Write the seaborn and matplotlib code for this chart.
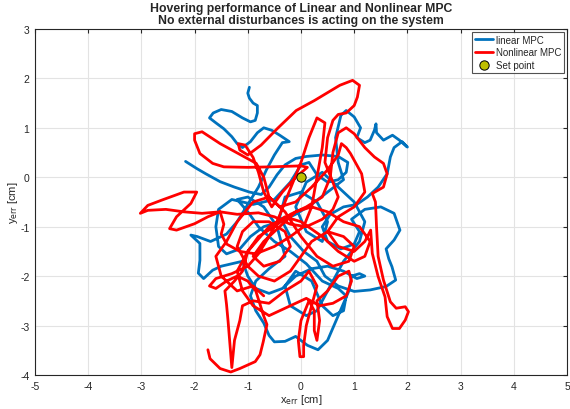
import numpy as np
import pandas as pd
import seaborn as sns
import matplotlib.pyplot as plt

# ==============================
# DATA (x/y error in cm)
# ==============================

linear_x = [-2.17, -1.95, -1.79, -1.52, -1.25, -0.97, -0.75, -0.6, -0.45, -0.3,
            -0.1, 0.1, 0.4, 0.7, 0.88, 0.85, 0.7, 0.5, 0.3, 0.15,
            0.0, -0.2, -0.5, -0.9, -1.3, -1.55, -1.6, -1.55, -1.4, -1.15,
            -0.95, -0.7, -0.4, -0.1, 0.2, 0.5, 0.8, 0.7, 0.65, 0.75,
            0.85, 1.0, 1.12, 1.05, 1.2, 1.3, 1.38, 1.41, 1.42, 1.55,
            1.72, 1.85, 2.0, 1.9, 1.75, 1.68, 1.62, 1.45, 1.25, 1.05,
            0.8, 0.55, 0.4, 0.5, 0.75, 1.0, 1.1, 0.95, 1.2, 1.5,
            1.75, 1.86, 1.75, 1.6, 1.65, 1.71, 1.78, 1.6, 1.3, 1.0,
            0.7, 0.45, 0.3, 0.05, -0.2, -0.4, -0.3, 0.0, 0.3, 0.5,
            0.4, 0.1, -0.1, 0.1, 0.4, 0.7, 1.0, 1.2, 1.1, 0.8,
            0.5, 0.3, 0.1, -0.2, -0.3, -0.1, 0.2, 0.4, 0.6, 0.8,
            0.85, 0.7, 0.4, 0.1, -0.2, -0.5, -0.8, -1.0, -1.2, -1.0,
            -0.7, -0.45, -0.3, -0.6, -0.85, -0.95, -0.85, -0.7, -0.6, -0.5,
            -0.3, -0.1, 0.12, 0.32, 0.5, 0.62, 0.78, 0.9, 0.95, 1.1,
            1.2, 1.05, 0.8, 0.5, 0.2, -0.1, -0.35, -0.6, -0.85, -1.0,
            -1.1, -1.3, -1.5, -1.66, -1.83, -1.93, -1.9, -1.9, -2.07, -1.95,
            -1.7, -1.4, -1.2, -1.0, -0.8, -0.65, -0.5, -0.35, -0.22, -0.4,
            -0.55, -0.7, -0.82, -0.95, -1.1, -1.2, -1.3, -1.45, -1.6, -1.72,
            -1.65, -1.5, -1.3, -1.1, -0.95, -0.86, -0.82, -0.82, -0.9, -0.97,
            -1.0, -0.97]
linear_y = [0.32, 0.17, 0.07, -0.09, -0.2, -0.3, -0.35, -0.2, 0.05, 0.25,
            0.38, 0.42, 0.45, 0.42, 0.3, 0.1, -0.05, -0.1, 0.05, 0.3,
            0.25, -0.1, -0.45, -0.55, -0.45, -0.65, -1.0, -1.4, -1.55, -1.45,
            -1.2, -1.0, -0.9, -0.75, -0.55, -0.3, -0.05, 0.3, 0.8, 1.25,
            1.35, 1.22, 1.0, 0.8, 0.7, 0.75, 0.95, 1.08, 0.9, 0.75,
            0.85, 0.75, 0.61, 0.72, 0.6, 0.41, 0.07, -0.2, -0.4, -0.55,
            -0.6, -0.75, -1.0, -1.3, -1.45, -1.35, -1.1, -0.85, -0.65, -0.6,
            -0.73, -1.07, -1.27, -1.45, -1.65, -1.81, -2.08, -2.21, -2.28, -2.31,
            -2.2, -2.0, -1.7, -1.5, -1.2, -0.8, -0.4, -0.3, -0.5, -0.9,
            -1.3, -1.1, -0.6, -0.1, 0.1, -0.2, -0.5, -0.9, -1.3, -1.7,
            -2.3, -2.7, -2.8, -2.6, -2.2, -1.9, -2.1, -2.6, -2.8, -2.7,
            -2.4, -2.25, -2.1, -1.75, -1.5, -1.3, -1.0, -0.7, -0.45, -0.4,
            -0.6, -1.0, -1.6, -1.85, -2.1, -2.4, -2.7, -2.95, -3.2, -3.33,
            -3.32, -3.22, -3.4, -3.49, -3.3, -3.0, -2.6, -2.3, -2.0, -1.95,
            -2.0, -2.05, -1.9, -1.8, -1.85, -2.0, -2.25, -2.35, -2.25, -2.0,
            -1.7, -1.75, -1.8, -1.88, -2.05, -1.94, -1.68, -1.34, -1.17, -1.2,
            -1.3, -1.15, -0.9, -0.55, -0.2, 0.15, 0.45, 0.7, 0.72, 0.85,
            0.95, 1.0, 0.9, 0.72, 0.6, 0.68, 0.82, 0.98, 1.1, 1.2,
            1.3, 1.37, 1.33, 1.2, 1.12, 1.15, 1.3, 1.45, 1.5, 1.6,
            1.7, 1.82]

nonlinear_x = [-1.75, -1.71, -1.52, -1.32, -1.15, -0.86, -0.77, -0.71, -0.64, -0.71,
               -0.77, -0.85, -1.0, -1.2, -1.4, -1.6, -1.72, -1.6, -1.3, -1.0,
               -0.8, -0.6, -0.45, -0.3, -0.15, 0.0, 0.15, 0.3, 0.45, 0.4,
               0.3, 0.2, 0.05, -0.2, -0.5, -0.85, -1.15, -1.4, -1.5, -1.45,
               -1.52, -1.86, -2.2, -2.54, -2.88, -3.02, -2.88, -2.61, -2.2, -1.96,
               -2.07, -2.34, -2.47, -2.34, -2.0, -1.75, -1.52, -1.2, -0.8, -0.5,
               -0.2, 0.1, 0.4, 0.6, 0.7, 0.6, 0.45, 0.5, 0.6, 0.7,
               0.85, 1.0, 1.06, 1.1, 0.97, 0.73, 0.25, -0.09, -0.43, -0.75,
               -1.0, -1.15, -1.18, -1.05, -0.9, -0.8, -0.7, -0.55, -0.35, -0.1,
               0.12, 0.0, -0.57, -1.0, -1.45, -1.66, -1.9, -2.0, -2.0, -1.86,
               -1.52, -1.18, -0.84, -0.7, -0.6, -0.4, -0.1, 0.2, 0.5, 0.7,
               0.76, 0.85, 0.93, 1.14, 1.2, 1.0, 0.7, 0.5, 0.7, 1.0,
               1.2, 1.31, 1.34, 1.45, 1.58, 1.62, 1.72, 1.85, 1.96, 2.02,
               1.96, 1.79, 1.68, 1.55, 1.45, 1.42, 1.4, 1.34, 1.55, 1.62,
               1.55, 1.38, 1.2, 1.0, 0.85, 0.7, 0.6, 0.55, 0.4, 0.1,
               -0.2, -0.5, -0.8, -1.0, -1.1, -1.25, -1.43, -1.4, -1.37, -1.33,
               -1.3, -1.25, -1.15, -1.1, -0.9, -0.6, -0.3, 0.0, 0.15, 0.3,
               0.2, 0.1, 0.05, 0.05, -0.02, -0.05, 0.0, 0.15, 0.25, 0.25,
               0.3, 0.35, 0.3, 0.5, 0.7, 0.9, 0.95, 0.85, 0.6, 0.35,
               0.1, -0.2, -0.6, -0.9, -1.1, -1.2, -1.0, -0.6, -0.3, 0.0,
               0.4, 0.7, 1.0, 1.2, 1.3, 1.1, 0.8, 0.5, 0.2, -0.1,
               -0.4, -0.7, -0.9, -0.7, -0.4, -0.2, -0.3, -0.6, -0.9, -1.1,
               -1.2, -1.0, -0.8, -0.5, -0.2, 0.0, 0.2, 0.5, 0.8, 1.0,
               0.9, 0.6, 0.3, 0.0, -0.3, -0.6, -0.9, -1.2, -1.4, -1.6,
               -1.5, -1.2, -0.9, -0.7]
nonlinear_y = [-3.49, -3.67, -3.87, -3.94, -3.87, -3.73, -3.59, -3.33, -2.98, -2.78,
               -2.57, -2.3, -2.1, -2.0, -2.1, -2.25, -2.2, -2.05, -1.95, -1.8,
               -1.55, -1.2, -0.9, -0.5, -0.1, 0.3, 0.8, 1.2, 1.1, 0.6,
               0.0, -0.6, -1.0, -1.2, -1.4, -1.55, -1.5, -1.35, -1.15, -0.95,
               -0.7, -0.73, -0.7, -0.65, -0.67, -0.73, -0.57, -0.46, -0.3, -0.3,
               -0.53, -0.8, -1.04, -1.07, -0.94, -0.8, -0.7, -0.75, -0.72, -0.8,
               -0.95, -1.0, -0.85, -0.65, -0.4, -0.1, 0.3, 0.8, 1.15, 1.27,
               1.3, 1.45, 1.62, 1.86, 1.96, 1.86, 1.55, 1.35, 1.0, 0.65,
               0.45, 0.55, 0.68, 0.65, 0.4, 0.1, -0.3, -0.6, -0.3, 0.0,
               0.2, 0.23, 0.21, 0.2, 0.21, 0.28, 0.48, 0.75, 0.88, 0.92,
               0.68, 0.48, 0.28, 0.0, -0.4, -0.6, -0.5, -0.2, 0.15, 0.45,
               0.68, 0.6, 0.48, 0.07, -0.3, -0.6, -0.8, -1.1, -1.4, -1.5,
               -1.3, -1.07, -1.54, -2.01, -2.42, -2.82, -3.06, -3.06, -2.89, -2.72,
               -2.62, -2.65, -2.52, -2.08, -1.6, -1.0, -0.5, -0.33, -0.2, 0.07,
               0.28, 0.41, 0.6, 0.88, 1.0, 0.9, 0.5, 0.0, -0.4, -0.6,
               -0.75, -1.0, -1.2, -1.5, -1.9, -2.1, -2.3, -2.57, -2.92, -3.46,
               -3.85, -3.3, -2.9, -2.6, -2.5, -2.55, -2.3, -2.1, -1.9, -2.2,
               -2.6, -3.0, -3.4, -3.63, -3.63, -3.3, -2.9, -2.5, -2.7, -3.1,
               -3.3, -2.9, -2.5, -2.3, -2.0, -1.9, -2.1, -2.4, -2.55, -2.6,
               -2.45, -2.6, -2.8, -2.6, -2.3, -1.9, -1.5, -1.0, -0.8, -0.9,
               -1.2, -1.5, -1.7, -1.6, -1.3, -1.0, -0.9, -0.7, -0.6, -0.7,
               -1.0, -1.3, -1.6, -1.8, -1.7, -1.4, -1.1, -0.9, -0.9, -1.1,
               -1.4, -1.8, -2.0, -2.1, -1.9, -1.6, -1.3, -1.1, -1.2, -1.4,
               -1.7, -1.8, -1.6, -1.2, -0.7, -0.4, -0.5, -0.9, -1.3, -1.6,
               -2.0, -2.3, -2.2, -2.4]

setpoint_x = [0.0]
setpoint_y = [0.0]

x_ticks = [-5, -4, -3, -2, -1, 0, 1, 2, 3, 4, 5]
y_ticks = [-4, -3, -2, -1, 0, 1, 2, 3]

# ==============================
# PLOT
# ==============================

sns.set_style("whitegrid")
plt.rcParams['font.family'] = ['Liberation Sans', 'DejaVu Sans']
plt.rcParams['axes.unicode_minus'] = False

df_lin = pd.DataFrame({'x': linear_x, 'y': linear_y})
df_non = pd.DataFrame({'x': nonlinear_x, 'y': nonlinear_y})

fig = plt.figure(figsize=(5.7, 4.1), dpi=100)
ax = fig.add_axes([0.0614, 0.083, 0.9333, 0.844])

sns.lineplot(data=df_lin, x='x', y='y', sort=False, estimator=None, color='#0072BD',
             linewidth=2.0, ax=ax, label='linear MPC')
sns.lineplot(data=df_non, x='x', y='y', sort=False, estimator=None, color='#FF0000',
             linewidth=2.0, ax=ax, label='Nonlinear MPC')
sns.scatterplot(x=setpoint_x, y=setpoint_y, color='#BFBF00', edgecolor='black', s=45,
                linewidth=0.7, ax=ax, label='Set point', zorder=5)

ax.set_xlim(-5, 5)
ax.set_ylim(-4, 3)
ax.set_xticks(x_ticks)
ax.set_yticks(y_ticks)
ax.grid(True, color='#e3e3e3', linewidth=0.8)
ax.tick_params(direction='in', length=3, top=True, right=True, labelsize=7.5,
               colors='#262626', pad=4)
for s in ax.spines.values():
    s.set_color('#262626')
    s.set_linewidth(0.8)

ax.set_xlabel(r'x$_{\mathrm{err}}$ [cm]', fontsize=8, color='#262626', labelpad=1)
ax.set_ylabel(r'y$_{\mathrm{err}}$ [cm]', fontsize=8, color='#262626', labelpad=0)
ax.set_title('Hovering performance of Linear and Nonlinear MPC\n'
             'No external disturbances is acting on the system',
             fontsize=8.8, fontweight='bold', pad=4, linespacing=1.05)

leg = ax.legend(loc='upper right', fontsize=7, frameon=True, fancybox=False,
                edgecolor='#262626', handlelength=1.8, borderaxespad=0.3,
                labelspacing=0.25, handletextpad=0.3, borderpad=0.3)
leg.get_frame().set_linewidth(0.8)

fig.savefig('out.png', dpi=100)
